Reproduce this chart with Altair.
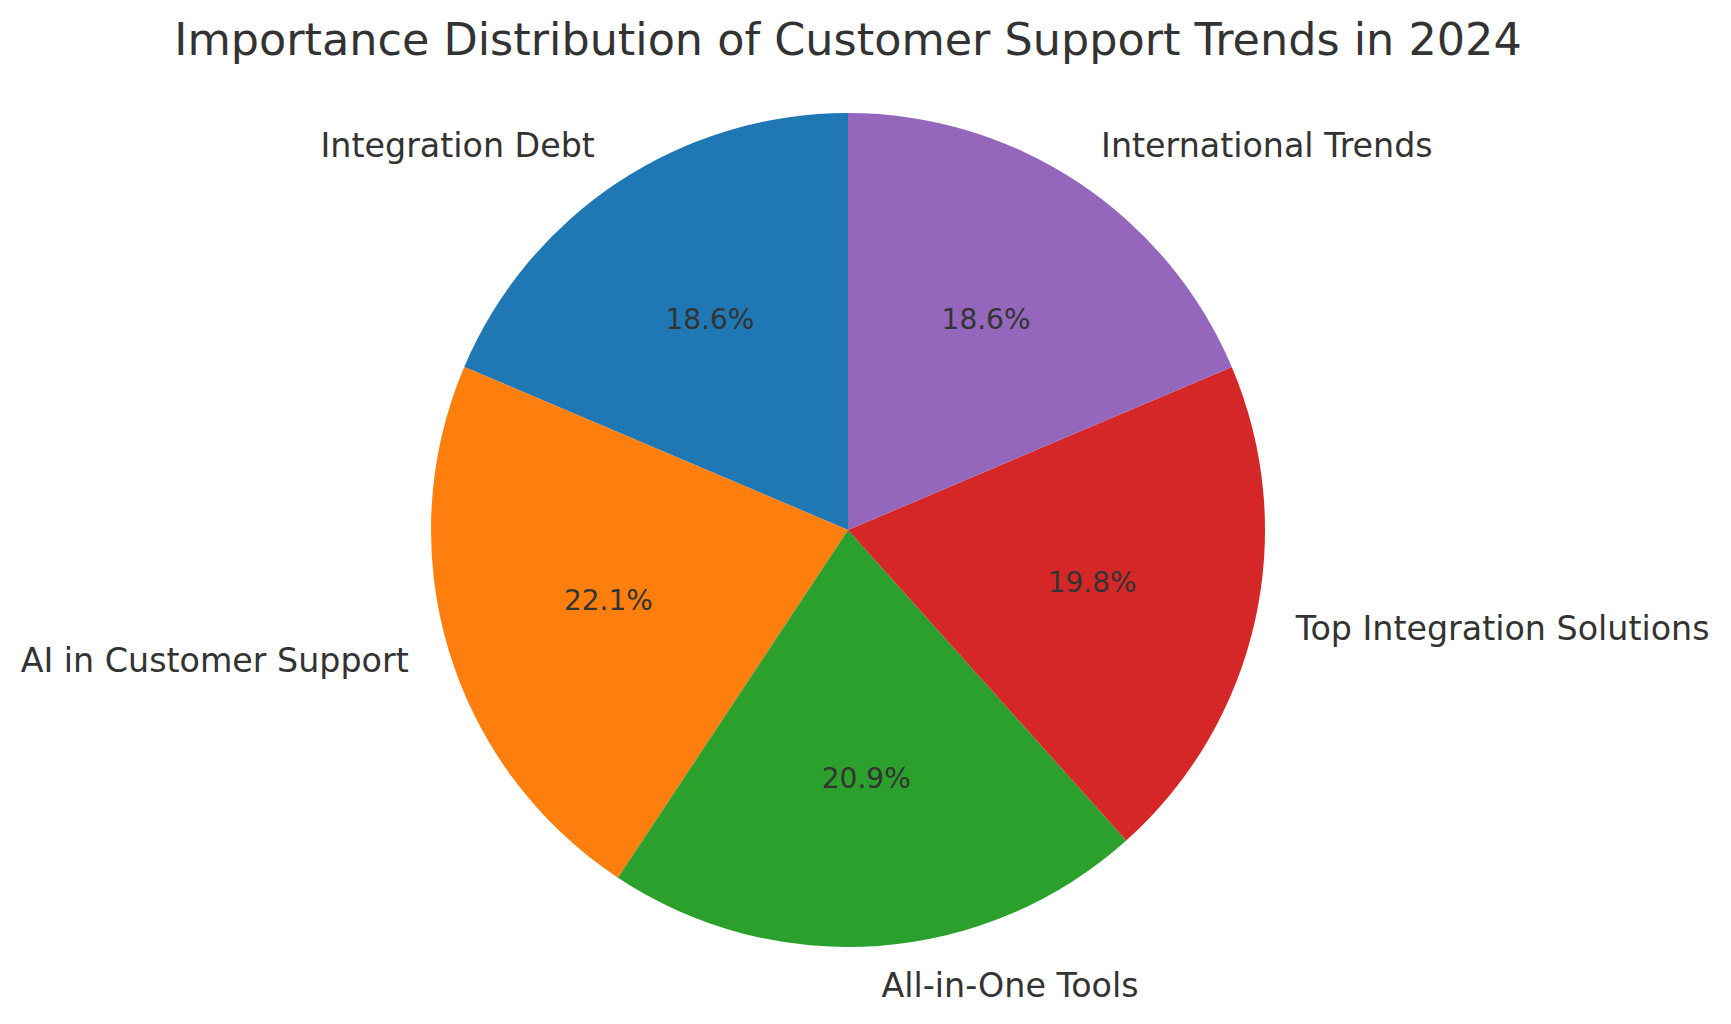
import altair as alt
import pandas as pd

labels = ["Integration Debt", "AI in Customer Support", "All-in-One Tools",
          "Top Integration Solutions", "International Trends"]
values = [16, 19, 18, 17, 16]
colors = ["#1f77b4", "#ff7f0e", "#2ca02c", "#d62728", "#9467bd"]

# matplotlib draws counter-clockwise from the top; Vega draws clockwise,
# so the drawing order is reversed.
order = [len(labels) - 1 - i for i in range(len(labels))]

df = pd.DataFrame({"label": labels, "value": values, "ord": order})

FONT = "DejaVu Sans"
TXT = "#333333"
R = 417

base = alt.Chart(df).transform_joinaggregate(
    total="sum(value)"
).transform_window(
    cum="sum(value)", sort=[alt.SortField("ord")], frame=[None, 0]
).transform_calculate(
    mid="datum.cum - datum.value / 2",
    pct="format(datum.value / datum.total, '.1%')",
    side="(datum.cum - datum.value / 2) / datum.total < 0.5 ? 'R' : 'L'",
)

arcs = base.mark_arc(outerRadius=R).encode(
    theta=alt.Theta("value:Q", stack=True),
    order=alt.Order("ord:Q", sort="ascending"),
    color=alt.Color("label:N", scale=alt.Scale(domain=labels, range=colors), legend=None),
)

pct = base.mark_text(radius=R * 0.6, font=FONT, fontSize=28, color=TXT,
                     align="center", baseline="middle").encode(
    theta=alt.Theta("mid:Q", stack=None),
    text="pct:N",
)

lab_r = base.transform_filter("datum.side == 'R'").mark_text(
    radius=R * 1.1, font=FONT, fontSize=33.3, color=TXT, align="left", baseline="middle"
).encode(theta=alt.Theta("mid:Q", stack=None), text="label:N")

lab_l = base.transform_filter("datum.side == 'L'").mark_text(
    radius=R * 1.1, font=FONT, fontSize=33.3, color=TXT, align="right", baseline="middle"
).encode(theta=alt.Theta("mid:Q", stack=None), text="label:N")

chart = alt.layer(arcs, pct, lab_r, lab_l).properties(
    width=1680,
    height=916,
    title=alt.TitleParams(
        "Importance Distribution of Customer Support Trends in 2024",
        fontSize=44.5, font=FONT, fontWeight="normal", color=TXT,
        anchor="middle", baseline="alphabetic", offset=18, dy=45, frame="group",
    ),
    autosize=alt.AutoSizeParams(type="none"),
    padding={"top": 64, "left": 0, "right": 30, "bottom": 20},
).configure_view(stroke=None).configure(background="white")

chart.save("out.html", embed_options={"renderer": "svg", "actions": False})
